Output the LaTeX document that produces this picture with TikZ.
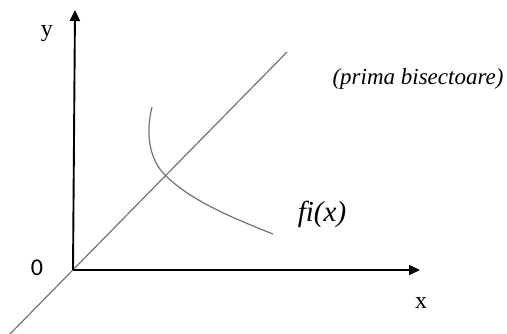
\documentclass[tikz,border=0pt]{standalone}
\usepackage{fontspec}
\setmainfont{Liberation Serif}
\newfontfamily\zerofont{Carlito}
\usetikzlibrary{arrows.meta}

\begin{document}
\begin{tikzpicture}[x=1pt,y=-1pt,line width=1.9pt,
  axis/.style={-{Triangle[length=11pt,width=10pt]}},
  thin/.style={line width=1.2pt,draw=black!55},
  lab/.style={inner sep=0pt,font=\fontsize{24}{28}\selectfont}]
\useasboundingbox (0,0) rectangle (507,333);
\coordinate (O) at (73,270);
\coordinate (ytip) at (75,10);
\coordinate (xtip) at (420,270);
\coordinate (bislo) at (8,336);
\coordinate (bishi) at (287,52);
\draw[thin] (bislo) -- (bishi);
\draw[axis] (O) -- (ytip);
\draw[axis] (O) -- (xtip);
\draw[thin] (152,107).. controls (145,135) and (150,160)..(165,175)
             .. controls (190,200) and (230,217)..(273,234);
\node[lab] (ylab) at (47,34) {y};
\node[lab] (olab) at (37,268) {\zerofont 0};
\node[lab] (xlab) at (421,303) {x};
\node[lab,font=\fontsize{29}{32}\selectfont] (flab) at (322,214) {\itshape fi(x)};
\node[lab,font=\fontsize{23}{26}\selectfont] (bislab) at (418,79) {\itshape (prima bisectoare)};
\end{tikzpicture}
\end{document}
